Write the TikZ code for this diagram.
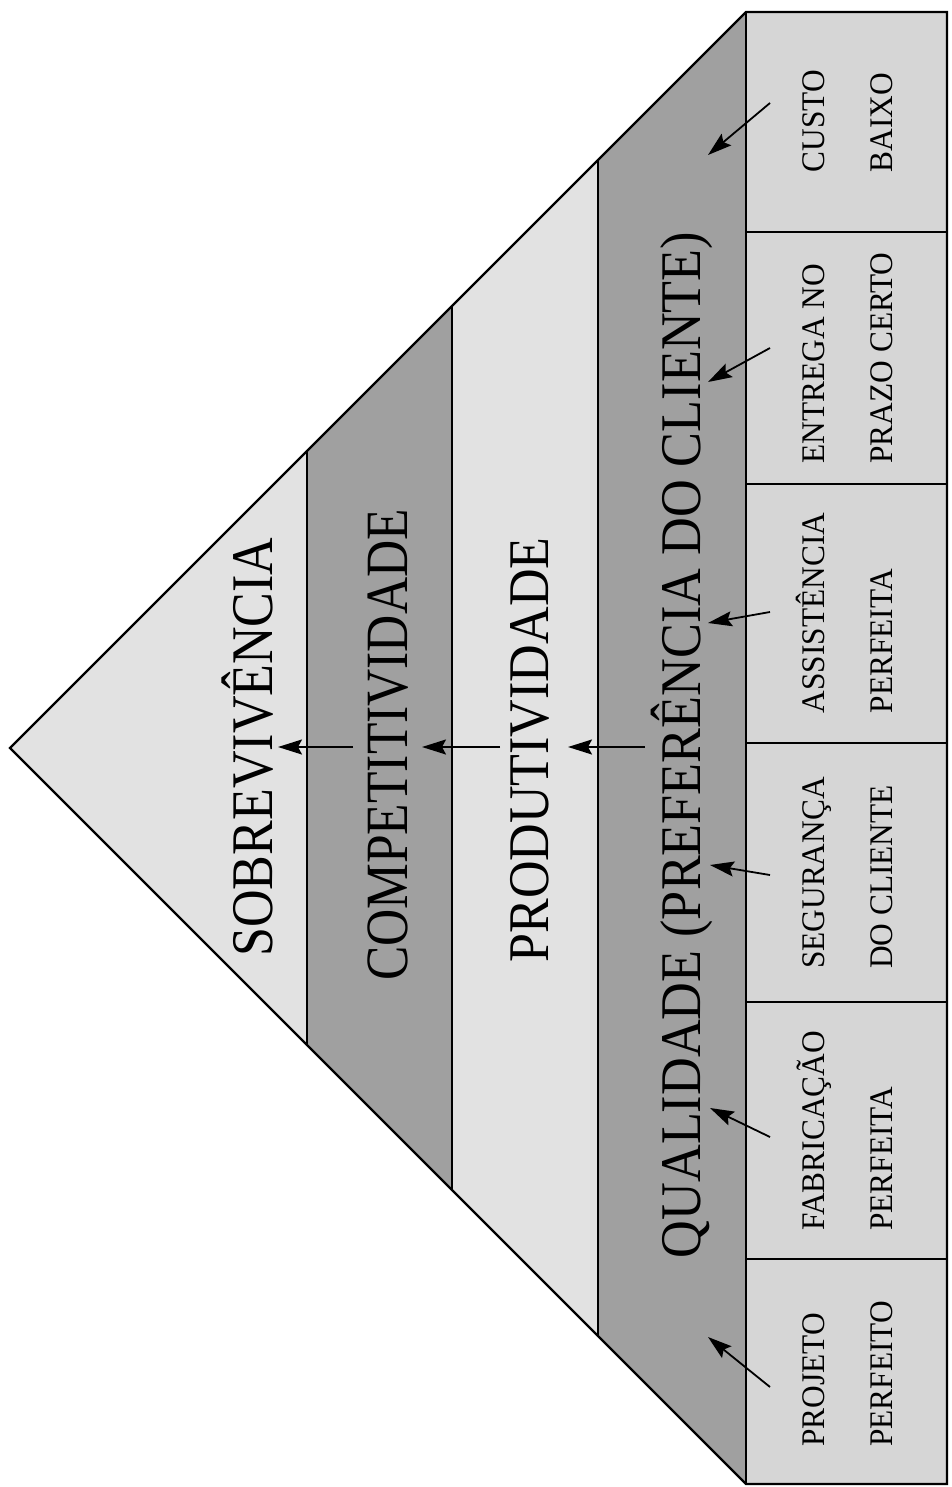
\documentclass[tikz,border=0pt]{standalone}
\usepackage{graphicx}
\usepackage{fontspec}
\setmainfont{Liberation Serif}
\usetikzlibrary{arrows.meta}
\definecolor{bandlight}{HTML}{E2E2E2}
\definecolor{banddark}{HTML}{A0A0A0}
\definecolor{boxfill}{HTML}{D6D6D6}
\newlength\padwa
\newlength\padwb
\newcommand\padline[3]{\settowidth\padwa{#1}\settowidth\padwb{#2}\ifdim\padwb>\padwa\padwa=\padwb\fi\makebox[\padwa][l]{#3}}
\begin{document}
\begin{tikzpicture}[x=1pt,y=-1pt,
  outline/.style={line width=2.2pt,line join=miter},
  divider/.style={line width=2pt},
  bigtxt/.style={rotate=90,anchor=base,inner sep=0pt},
  boxtxt/.style={rotate=90,anchor=base,inner sep=0pt,font=\fontsize{33}{36}\selectfont},
  arr/.style={-{Stealth[length=24pt,width=15pt,inset=4pt]},line width=1.8pt}]
\useasboundingbox (0,0) rectangle (952,1487);
% key points
\coordinate (apex) at (10,748);
\coordinate (t1) at (307,451);  \coordinate (b1) at (307,1045);
\coordinate (t2) at (452,306);  \coordinate (b2) at (452,1190);
\coordinate (t3) at (598,160);  \coordinate (b3) at (598,1336);
\coordinate (t4) at (746,12);   \coordinate (b4) at (746,1484);
\coordinate (tr) at (947,12);   \coordinate (br) at (947,1484);
% fills
\fill[bandlight] (apex) -- (t1) -- (b1) -- cycle;
\fill[banddark] (t1) -- (t2) -- (b2) -- (b1) -- cycle;
\fill[bandlight] (t2) -- (t3) -- (b3) -- (b2) -- cycle;
\fill[banddark] (t3) -- (t4) -- (b4) -- (b3) -- cycle;
\fill[boxfill] (t4) rectangle (br);
% lines
\draw[divider] (t1) -- (b1);
\draw[divider] (t2) -- (b2);
\draw[divider] (t3) -- (b3);
\draw[divider] (t4) -- (b4);
\foreach \yy/\nm in {232/d1,484/d2,743/d3,1002/d4,1259/d5}{
  \coordinate (\nm l) at (746,\yy);
  \coordinate (\nm r) at (947,\yy);
  \draw[divider] (\nm l) -- (\nm r);
}
\draw[outline] (apex) -- (t4) -- (tr) -- (br) -- (b4) -- cycle;
% band texts
\node[bigtxt,font=\fontsize{59}{62}\selectfont] (sob) at (272,747) {\scalebox{0.882}[1]{SOBREVIVÊNCIA}};
\node[bigtxt,font=\fontsize{60}{64}\selectfont] (comp) at (407,745) {\scalebox{0.858}[1]{COMPETITIVIDADE}};
\node[bigtxt,font=\fontsize{57.5}{62}\selectfont] (prod) at (548,750) {\scalebox{0.905}[1]{PRODUTIVIDADE}};
\node[bigtxt,font=\fontsize{57.5}{62}\selectfont] (qual) at (700,745) {\scalebox{0.909}[1]{QUALIDADE (PREFERÊNCIA DO CLIENTE)}};
% box texts
\node[boxtxt] (c1a) at (824,121) {\scalebox{0.95}[1]{\padline{CUSTO}{BAIXO}{CUSTO}}};
\node[boxtxt] (c1b) at (892,121) {\scalebox{0.95}[1]{\padline{CUSTO}{BAIXO}{BAIXO}}};
\node[boxtxt] (c2a) at (824,358) {\scalebox{0.95}[1]{\padline{ENTREGA NO}{PRAZO CERTO}{ENTREGA NO}}};
\node[boxtxt] (c2b) at (892,358) {\scalebox{0.95}[1]{\padline{ENTREGA NO}{PRAZO CERTO}{PRAZO CERTO}}};
\node[boxtxt] (c3a) at (824,613) {\scalebox{0.95}[1]{\padline{ASSISTÊNCIA}{PERFEITA}{ASSISTÊNCIA}}};
\node[boxtxt] (c3b) at (892,613) {\scalebox{0.95}[1]{\padline{ASSISTÊNCIA}{PERFEITA}{PERFEITA}}};
\node[boxtxt] (c4a) at (824,873) {\scalebox{0.95}[1]{\padline{SEGURANÇA}{DO CLIENTE}{SEGURANÇA}}};
\node[boxtxt] (c4b) at (892,873) {\scalebox{0.95}[1]{\padline{SEGURANÇA}{DO CLIENTE}{DO CLIENTE}}};
\node[boxtxt] (c5a) at (824,1131) {\scalebox{0.95}[1]{\padline{FABRICAÇÃO}{PERFEITA}{FABRICAÇÃO}}};
\node[boxtxt] (c5b) at (892,1131) {\scalebox{0.95}[1]{\padline{FABRICAÇÃO}{PERFEITA}{PERFEITA}}};
\node[boxtxt] (c6a) at (824,1374) {\scalebox{0.95}[1]{\padline{PROJETO}{PERFEITO}{PROJETO}}};
\node[boxtxt] (c6b) at (892,1374) {\scalebox{0.95}[1]{\padline{PROJETO}{PERFEITO}{PERFEITO}}};
% horizontal arrows
\coordinate (h1s) at (353,747); \coordinate (h1e) at (278,747);
\coordinate (h2s) at (500,747); \coordinate (h2e) at (422,747);
\coordinate (h3s) at (645,747); \coordinate (h3e) at (568,747);
\draw[arr] (h1s) -- (h1e);
\draw[arr] (h2s) -- (h2e);
\draw[arr] (h3s) -- (h3e);
% diagonal arrows from boxes
\coordinate (a1s) at (770,103);  \coordinate (a1e) at (708,155);
\coordinate (a2s) at (770,348);  \coordinate (a2e) at (708,382);
\coordinate (a3s) at (770,612);  \coordinate (a3e) at (708,623);
\coordinate (a4s) at (770,875);  \coordinate (a4e) at (710,865);
\coordinate (a5s) at (770,1137); \coordinate (a5e) at (710,1108);
\coordinate (a6s) at (770,1387); \coordinate (a6e) at (708,1337);
\foreach \k in {1,...,6}{\draw[arr] (a\k s) -- (a\k e);}
\end{tikzpicture}
\end{document}
